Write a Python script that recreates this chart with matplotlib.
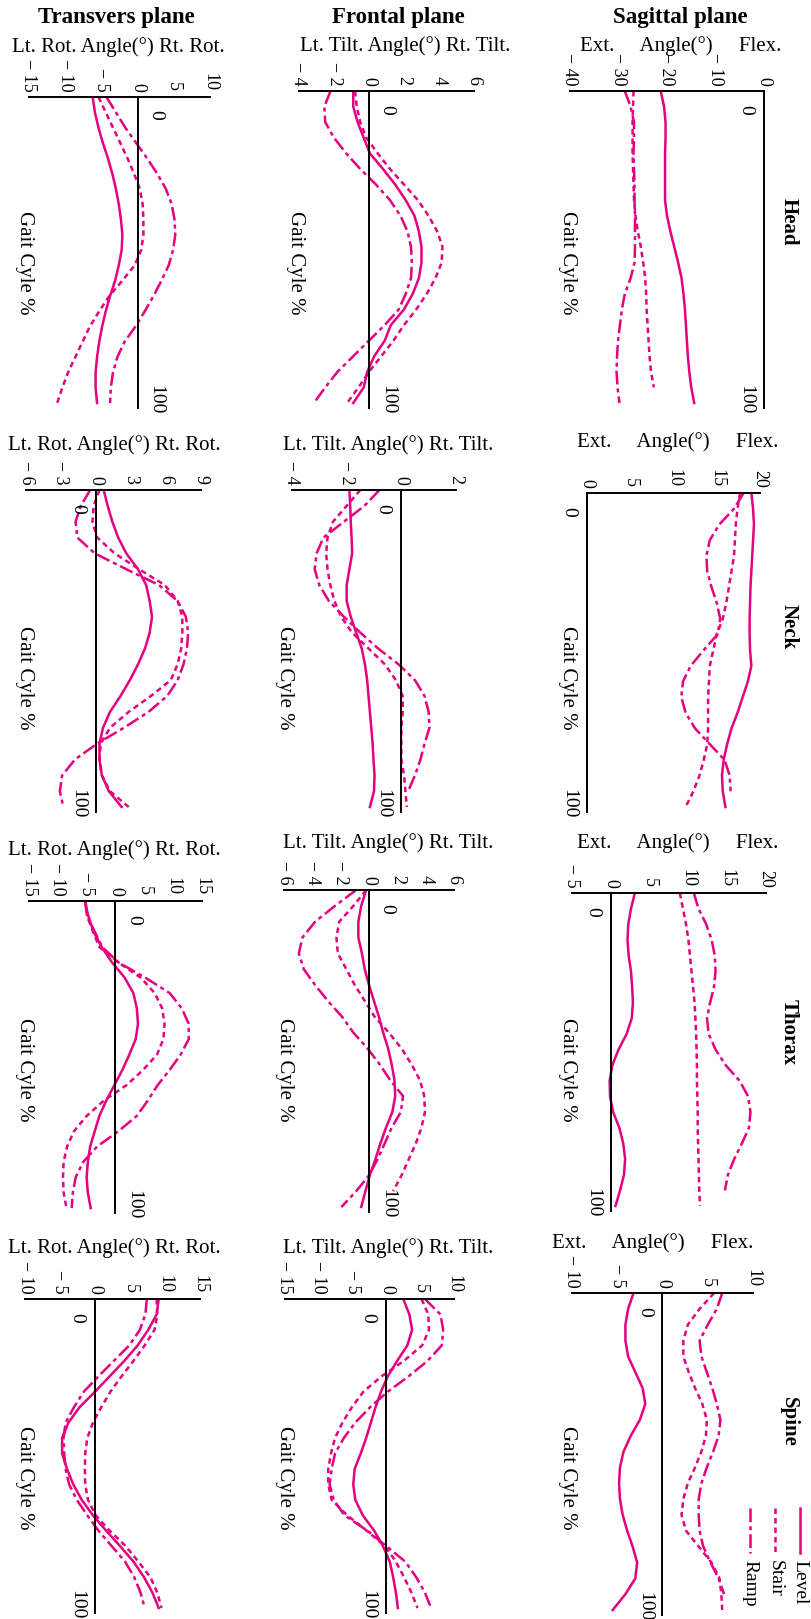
import numpy as np
import matplotlib.pyplot as plt
from matplotlib.lines import Line2D

plt.rcParams['font.family'] = ['Liberation Serif', 'DejaVu Serif']

W, H = 812, 1619
MAGENTA = '#E4007F'

# gait cycle (%) sample points
gait = [0, 5, 10, 15, 20, 25, 30, 35, 40, 45, 50, 55, 60, 65, 70, 75, 80, 85, 90, 95, 100]
nan = np.nan

# ---- Head ----
head_tr_level = [-6.2, -5.9, -5.4, -4.8, -4.1, -3.5, -3.0, -2.6, -2.3, -2.1, -2.2, -2.6, -3.1, -3.8, -4.4, -4.9, -5.3, -5.6, -5.8, -5.8, -5.6]
head_tr_stair = [-5.4, -4.4, -3.4, -2.4, -1.4, -0.5, 0.3, 0.7, 0.8, 0.8, 0.5, -0.4, -2.1, -3.9, -5.3, -6.6, -7.6, -8.6, -9.6, -10.4, -11.1]
head_tr_ramp = [-4.3, -3.0, -1.7, -0.2, 1.3, 2.7, 3.9, 4.7, 5.1, 5.2, 4.9, 4.3, 3.3, 2.2, 1.0, -0.3, -1.8, -2.8, -3.4, -3.7, -3.8]

head_fr_level = [-0.9, -0.9, -0.65, -0.3, 0.05, 0.8, 1.5, 2.1, 2.6, 2.85, 3.0, 3.0, 2.85, 2.5, 2.0, 1.25, 0.9, 0.3, -0.1, -0.3, -0.9]
head_fr_stair = [-0.8, -0.7, -0.5, -0.15, 0.5, 1.2, 2.0, 2.8, 3.4, 3.9, 4.2, 4.15, 3.8, 3.3, 2.7, 2.0, 1.4, 0.7, 0.0, -0.6, -1.25]
head_fr_ramp = [-2.2, -2.55, -2.5, -2.0, -1.3, -0.5, 0.4, 1.2, 1.8, 2.2, 2.4, 2.45, 2.4, 2.1, 1.7, 0.9, 0.0, -0.9, -1.8, -2.5, -3.15]

head_sa_level = [-21.3, -20.6, -20.3, -20.3, -20.4, -20.4, -20.4, -20.4, -20.0, -19.3, -18.5, -17.7, -17.0, -16.6, -16.3, -16.1, -15.9, -15.7, -15.4, -15.0, -14.4]
head_sa_stair = [-26.9, -27.0, -27.1, -27.1, -27.1, -27.0, -26.9, -26.8, -26.5, -26.0, -25.4, -24.9, -24.5, -24.3, -24.2, -24.0, -23.8, -23.6, -23.3, -22.7, nan]
head_sa_ramp = [-28.7, -27.5, -26.8, -26.8, -26.9, -26.8, -26.7, -26.7, -26.6, -26.6, -26.6, -26.7, -27.5, -28.7, -29.3, -29.7, -30.1, -30.3, -30.4, -30.2, -29.8]

# ---- Neck ----
neck_tr_level = [0.66, 1.0, 1.4, 1.9, 2.6, 3.6, 4.3, 4.6, 4.8, 4.6, 4.2, 3.6, 2.9, 2.1, 1.2, 0.6, 0.3, 0.3, 0.5, 1.1, 2.2]
neck_tr_stair = [0.3, -0.2, -0.3, 0.1, 1.6, 3.7, 5.9, 7.0, 7.4, 7.4, 7.3, 7.0, 6.4, 4.7, 2.8, 1.2, 0.4, 0.3, 0.5, 1.2, 2.8]
neck_tr_ramp = [-0.5, -1.3, -1.75, -1.6, -0.1, 2.6, 5.4, 7.0, 7.7, 7.9, 7.8, 7.5, 7.0, 6.1, 4.5, 2.4, 0.1, -1.8, -2.9, -3.1, -2.8]

neck_fr_level = [-1.9, -1.87, -1.85, -1.82, -1.8, -1.9, -2.0, -2.0, -1.85, -1.65, -1.45, -1.33, -1.25, -1.2, -1.15, -1.1, -1.05, -1.02, -0.98, -1.0, -1.15]
neck_fr_stair = [-1.5, -2.0, -2.5, -2.7, -2.75, -2.7, -2.6, -2.45, -2.2, -1.8, -1.2, -0.6, -0.2, 0.05, 0.05, 0.0, 0.0, 0.0, 0.1, 0.15, 0.2]
neck_fr_ramp = [-0.8, -1.35, -2.1, -2.85, -3.1, -3.17, -3.0, -2.65, -2.1, -1.5, -0.85, -0.1, 0.5, 0.85, 1.0, 1.03, 0.85, 0.7, 0.5, 0.25, nan]

neck_sa_level = [19.0, 19.2, 19.3, 19.2, 19.1, 19.0, 18.9, 18.85, 18.8, 18.8, 18.85, 19.0, 18.6, 18.0, 17.4, 16.7, 16.2, 15.8, 15.6, 15.7, 16.0]
neck_sa_stair = [17.7, 17.4, 17.2, 17.1, 17.0, 16.7, 16.4, 16.1, 15.7, 15.0, 14.6, 14.2, 14.1, 14.0, 14.0, 14.0, 13.9, 13.5, 13.0, 12.3, 11.4]
neck_sa_ramp = [18.1, 17.0, 15.3, 14.2, 13.8, 13.9, 14.4, 15.0, 15.4, 15.1, 13.5, 12.0, 11.1, 10.9, 11.4, 12.5, 14.2, 15.9, 16.5, 16.6, nan]

# ---- Thorax ----
thor_tr_level = [-5.3, -4.7, -3.8, -2.4, -0.6, 1.6, 3.1, 3.7, 3.9, 3.5, 2.4, 1.2, -0.2, -1.6, -2.8, -3.6, -4.4, -4.8, -5.0, -4.8, -4.3]
thor_tr_stair = [-5.2, -4.9, -3.9, -2.8, 0.5, 4.4, 6.8, 8.1, 8.5, 8.3, 7.2, 4.8, 1.9, -2.0, -5.0, -7.2, -8.4, -9.0, -9.1, -9.0, -8.5]
thor_tr_ramp = [-5.3, -4.9, -3.6, -2.3, 0.5, 5.2, 9.4, 11.5, 12.7, 12.7, 11.3, 9.4, 7.3, 5.6, 3.7, 0.5, -3.2, -5.6, -6.9, -7.4, -7.6]

thor_fr_level = [-0.2, -0.55, -0.75, -0.75, -0.5, -0.3, 0.0, 0.35, 0.7, 1.0, 1.35, 1.6, 1.8, 1.85, 1.65, 1.2, 0.8, 0.45, 0.05, -0.25, -0.55]
thor_fr_stair = [-0.2, -1.1, -2.1, -2.3, -2.2, -1.6, -1.0, -0.3, 0.4, 1.4, 2.3, 3.0, 3.6, 3.9, 3.95, 3.7, 3.3, 2.8, 2.3, 1.7, nan]
thor_fr_ramp = [-0.9, -2.4, -3.8, -4.7, -4.95, -4.6, -3.8, -2.9, -1.9, -1.1, -0.1, 0.75, 1.5, 2.4, 2.25, 1.6, 1.1, 0.6, 0.0, -0.9, -1.95]

thor_sa_level = [3.1, 2.6, 2.25, 2.15, 2.3, 2.6, 2.75, 2.85, 2.7, 2.05, 1.0, 0.2, -0.15, -0.1, 0.3, 1.1, 1.6, 1.85, 1.7, 1.2, 0.6]
thor_sa_stair = [8.9, 9.3, 9.7, 10.0, 10.2, 10.4, 10.6, 10.8, 10.9, 11.0, 11.05, 11.1, 11.1, 11.15, 11.2, 11.2, 11.25, 11.3, 11.35, 11.4, 11.5]
thor_sa_ramp = [10.7, 11.3, 12.3, 13.0, 13.4, 13.5, 13.3, 12.8, 12.4, 12.6, 13.5, 14.8, 16.6, 17.7, 18.0, 17.8, 16.9, 15.9, 15.1, 14.7, nan]

# ---- Spine ----
spin_tr_level = [9.1, 8.8, 7.6, 6.1, 4.2, 2.1, 0.0, -2.2, -3.8, -4.7, -4.7, -4.0, -3.1, -1.9, -0.3, 1.6, 3.6, 5.5, 7.0, 8.2, 9.1]
spin_tr_stair = [8.8, 8.9, 8.5, 7.1, 5.5, 3.8, 2.2, 0.9, -0.3, -1.1, -1.4, -1.45, -1.4, -1.0, 0.1, 2.1, 4.4, 6.2, 7.9, 8.9, 9.5]
spin_tr_ramp = [7.4, 7.2, 6.4, 4.9, 2.7, 0.5, -1.6, -3.0, -4.2, -4.5, -4.4, -4.2, -3.7, -2.6, -1.1, 0.5, 2.4, 4.3, 5.6, 6.5, 7.1]

spin_fr_level = [2.5, 3.4, 3.8, 3.1, 1.6, 0.2, -0.8, -1.6, -2.3, -3.0, -3.8, -4.7, -4.9, -4.6, -3.5, -1.8, -0.5, 0.5, 1.0, 1.4, 1.7]
spin_fr_stair = [5.2, 6.2, 6.3, 5.3, 2.6, -0.7, -3.4, -5.1, -6.5, -7.6, -8.2, -8.6, -8.6, -8.1, -5.8, -2.9, -0.2, 1.4, 2.6, 3.7, 4.6]
spin_fr_ramp = [5.7, 8.0, 8.4, 8.2, 6.1, 3.3, 0.2, -2.4, -4.6, -6.3, -7.6, -8.1, -8.4, -7.8, -6.2, -2.8, 0.0, 2.8, 4.4, 5.7, 6.6]

spin_sa_level = [-3.2, -3.8, -4.1, -4.1, -3.8, -3.0, -2.2, -1.9, -2.5, -3.5, -4.3, -4.7, -4.8, -4.7, -4.4, -3.9, -3.3, -2.8, -3.0, -4.1, -5.5]
spin_sa_stair = [5.7, 4.1, 2.8, 2.3, 2.3, 2.9, 3.6, 4.4, 4.9, 4.8, 4.3, 3.6, 2.8, 2.3, 2.1, 2.6, 4.0, 5.4, 6.3, 6.5, 6.6]
spin_sa_ramp = [6.6, 6.0, 5.0, 4.1, 4.3, 4.9, 5.5, 6.0, 6.4, 6.2, 5.6, 4.9, 4.3, 4.0, 4.0, 4.1, 4.5, 5.3, 6.2, 6.8, nan]

series_names = ['Level', 'Stair', 'Ramp']
col_titles = ['Transvers plane', 'Frontal plane', 'Sagittal plane']
row_names = ['Head', 'Neck', 'Thorax', 'Spine']
angle_labels = ['Lt. Rot. Angle(°) Rt. Rot.', 'Lt. Tilt. Angle(°) Rt. Tilt.',
                'Ext.     Angle(°)     Flex.']

styles = [dict(linestyle='-'),
          dict(dashes=(2.2, 1.6)),
          dict(dashes=(5.5, 1.6, 1.6, 1.6))]

# (data, xlim, ticks, box px (left, right, top, y at 100%), side of 0/100 labels)
panels = [
    ((head_tr_level, head_tr_stair, head_tr_ramp), (-15, 10), range(-15, 11, 5), (29, 210, 97, 403), 'r'),
    ((head_fr_level, head_fr_stair, head_fr_ramp), (-4, 6), range(-4, 7, 2), (299, 474, 91, 403), 'r'),
    ((head_sa_level, head_sa_stair, head_sa_ramp), (-40, 0), range(-40, 1, 10), (570, 764, 91, 403), 'l'),
    ((neck_tr_level, neck_tr_stair, neck_tr_ramp), (-6, 9), range(-6, 10, 3), (26, 201, 490, 807), 'l'),
    ((neck_fr_level, neck_fr_stair, neck_fr_ramp), (-4, 2), range(-4, 3, 2), (292, 456, 490, 807), 'l'),
    ((neck_sa_level, neck_sa_stair, neck_sa_ramp), (0, 20), range(0, 21, 5), (587, 760, 493, 807), 'l'),
    ((thor_tr_level, thor_tr_stair, thor_tr_ramp), (-15, 15), range(-15, 16, 5), (29, 202, 901, 1208), 'r'),
    ((thor_fr_level, thor_fr_stair, thor_fr_ramp), (-6, 6), range(-6, 7, 2), (284, 454, 890, 1207), 'r'),
    ((thor_sa_level, thor_sa_stair, thor_sa_ramp), (-5, 20), range(-5, 21, 5), (572, 766, 893, 1206), 'l'),
    ((spin_tr_level, spin_tr_stair, spin_tr_ramp), (-10, 15), range(-10, 16, 5), (25, 200, 1299, 1608), 'l'),
    ((spin_fr_level, spin_fr_stair, spin_fr_ramp), (-15, 10), range(-15, 11, 5), (285, 454, 1299, 1608), 'l'),
    ((spin_sa_level, spin_sa_stair, spin_sa_ramp), (-10, 10), range(-10, 11, 5), (572, 753, 1293, 1610), 'l'),
]

# text positions in pixels
title_pos = [(116, 17), (398, 17), (680, 17)]
label_pos = [[(118, 47), (405, 46), (681, 46)],
             [(114, 445), (388, 445), (678, 442)],
             [(114, 850), (388, 843), (678, 843)],
             [(114, 1248), (388, 1248), (653, 1243)]]
gait_label_pos = [[(24, 263), (296, 263), (568, 263)],
                  [(24, 678), (285, 678), (568, 678)],
                  [(24, 1070), (285, 1070), (568, 1070)],
                  [(24, 1478), (285, 1478), (568, 1478)]]
row_label_pos = [(789, 222), (789, 627), (789, 1032), (789, 1422)]


def fx(x):
    return x / W


def fy(y):
    return 1 - y / H


fig = plt.figure(figsize=(W / 100, H / 100), dpi=100)

for i, (data, xlim, ticks, box, side) in enumerate(panels):
    l, r, t, b = box
    hpx = (b - t) * 1.015
    ax = fig.add_axes([fx(l), fy(t + hpx), (r - l) / W, hpx / H])
    ax.set_facecolor('none')
    for s, vals, st in zip(series_names, data, styles):
        ax.plot(vals, gait, color=MAGENTA, lw=1.8, label=s, **st)
    ax.set_xlim(*xlim)
    ax.set_ylim(101.5, 0)
    ax.axvline(0, color='black', lw=1.4, clip_on=False)
    for sp in ['left', 'right', 'bottom']:
        ax.spines[sp].set_visible(False)
    ax.spines['top'].set_linewidth(1.4)
    ax.xaxis.tick_top()
    ax.set_xticks(list(ticks))
    ax.set_xticklabels([('\u2212 %d' % -v) if v < 0 else '%d' % v for v in ticks])
    ax.tick_params(axis='x', length=0, pad=4, labelsize=13, labelrotation=-90)
    ax.set_yticks([])
    off = 7 if side == 'r' else -7
    ha = 'left' if side == 'r' else 'right'
    for g, txt in [(6, '0'), (99, '100')]:
        ax.annotate(txt, xy=(0, g), xytext=(off, 0), textcoords='offset points',
                    rotation=-90, ha=ha, va='center', fontsize=14)

for c in range(3):
    x, y = title_pos[c]
    fig.text(fx(x), fy(y), col_titles[c], ha='center', va='center',
             fontsize=16.5, fontweight='bold')
    for rw in range(4):
        x, y = label_pos[rw][c]
        fig.text(fx(x), fy(y), angle_labels[c], ha='center', va='center', fontsize=15)
        x, y = gait_label_pos[rw][c]
        fig.text(fx(x), fy(y), 'Gait Cyle %', ha='center', va='center',
                 rotation=-90, fontsize=15)

for rw in range(4):
    x, y = row_label_pos[rw]
    fig.text(fx(x), fy(y), row_names[rw], ha='center', va='center',
             rotation=-90, fontsize=15, fontweight='bold')

# legend (rotated, drawn by hand)
for k, (name, st) in enumerate(zip(series_names, styles)):
    x = 800 - 25 * k
    fig.add_artist(Line2D([fx(x), fx(x)], [fy(1508), fy(1553)], color=MAGENTA,
                          lw=1.8, transform=fig.transFigure, **st))
    fig.text(fx(x), fy(1560), name, ha='center', va='top', rotation=-90, fontsize=14)

fig.savefig('out.png', dpi=100)
